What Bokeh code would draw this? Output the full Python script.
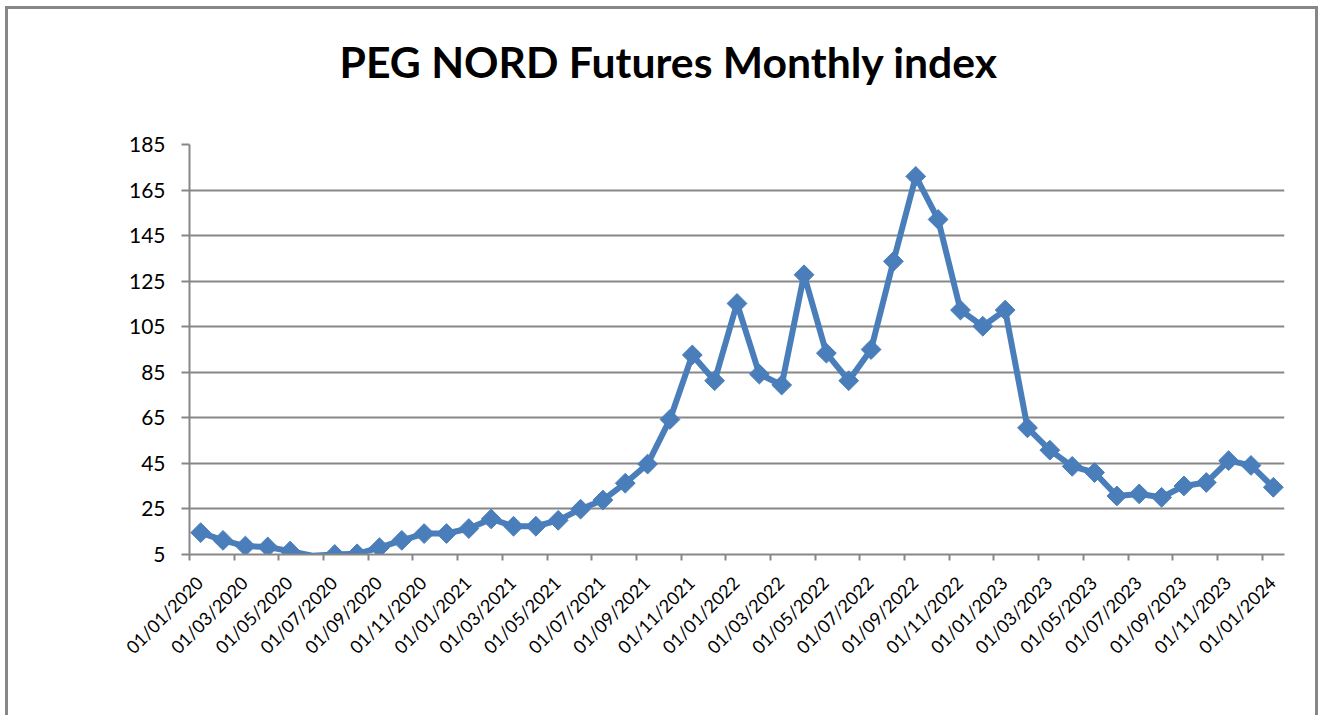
import math
import pandas as pd
from bokeh.plotting import figure
from bokeh.models import ColumnDataSource, FixedTicker, Title, Range1d, LinearAxis
from bokeh.embed import file_html
from bokeh.resources import INLINE

# ---- data ----
months = [d.strftime("%d/%m/%Y") for d in pd.date_range("2020-01-01", "2024-01-01", freq="MS")]
index_values = [
    14.6, 11.2, 8.7, 8.3, 6.5, 4.5, 5.0, 5.3, 8.0, 11.2, 14.2, 14.2,
    16.4, 20.6, 17.4, 17.4, 20.0, 24.9, 28.9, 36.3, 44.7, 64.3, 92.6, 81.3,
    115.2, 84.2, 79.4, 127.8, 93.4, 81.3, 95.0, 133.7, 171.0, 152.1, 112.3, 105.2,
    112.3, 60.6, 50.8, 43.7, 41.0, 30.7, 31.6, 30.1, 35.1, 36.6, 46.2, 44.1,
    34.5,
]
y_ticks = [5, 25, 45, 65, 85, 105, 125, 145, 165, 185]
title_text = "PEG NORD Futures Monthly index"

# ---- build ----
n = len(months)
x_mid = [i + 0.5 for i in range(n)]
src = ColumnDataSource(dict(x=x_mid, y=index_values))
y_min, y_max = y_ticks[0], y_ticks[-1]
mk = [(x, y) for x, y in zip(x_mid, index_values) if y >= y_min]
msrc = ColumnDataSource(dict(x=[a for a, b in mk], y=[b for a, b in mk]))

GRAY = "#878787"
BLUE = "#4A7EBB"
FONT = "Lato"
label_shift = 0.45  # label anchor shift (months), as in the reference

p = figure(width=1313, height=709, output_backend="svg", toolbar_location=None,
           x_range=Range1d(0, n), y_range=Range1d(y_min, y_max),
           x_axis_location=None,
           min_border_left=181, min_border_right=37, min_border_top=135, min_border_bottom=164)
p.extra_x_ranges = {"lab": Range1d(-label_shift, n - label_shift)}
p.styles = {"margin-left": "5px", "margin-top": "6px",
            "border-left": f"3px solid {GRAY}", "border-top": f"3px solid {GRAY}",
            "border-right": f"3px solid {GRAY}"}
p.outline_line_color = None
p.background_fill_color = "white"
p.border_fill_color = "white"

p.line("x", "y", source=src, line_color=BLUE, line_width=6, line_join="round")
p.scatter("x", "y", source=msrc, marker="square", angle=math.pi / 4, size=14,
          fill_color=BLUE, line_color=BLUE)

# x axis: labels at shifted positions (major), real tick marks as minor ticks
even = list(range(0, n, 2))
xa = LinearAxis(x_range_name="lab",
                ticker=FixedTicker(ticks=even, minor_ticks=[k - label_shift for k in even]))
xa.major_label_overrides = {i: months[i] for i in even}
xa.major_label_orientation = math.pi / 4
xa.major_label_text_font = FONT
xa.major_label_text_font_size = "18px"
xa.major_label_text_color = "black"
xa.major_label_standoff = 19
xa.major_tick_line_color = None
xa.major_tick_out = 6
xa.major_tick_in = 0
xa.minor_tick_line_color = GRAY
xa.minor_tick_line_width = 2
xa.minor_tick_out = 6
xa.minor_tick_in = 0
xa.axis_line_color = GRAY
xa.axis_line_width = 2
p.add_layout(xa, "below")

ya = p.yaxis[0]
ya.ticker = FixedTicker(ticks=y_ticks)
ya.axis_line_color = GRAY
ya.axis_line_width = 2
ya.major_tick_line_color = GRAY
ya.major_tick_line_width = 2
ya.minor_tick_line_color = None
ya.major_tick_in = 0
ya.major_tick_out = 8
ya.major_label_text_font = FONT
ya.major_label_text_color = "black"
ya.major_label_text_font_size = "21px"
ya.major_label_standoff = 16

p.xgrid.grid_line_color = None
p.ygrid.grid_line_color = GRAY
p.ygrid.grid_line_width = 2

# title: trailing line break keeps it high above the frame, as in the reference
t = Title(text=title_text + "\n", align="left", text_font=FONT, text_font_style="bold",
          text_font_size="42.7px", text_color="black", offset=150, standoff=14)
p.add_layout(t, "above")

open("out.html", "w").write(file_html(p, INLINE))
